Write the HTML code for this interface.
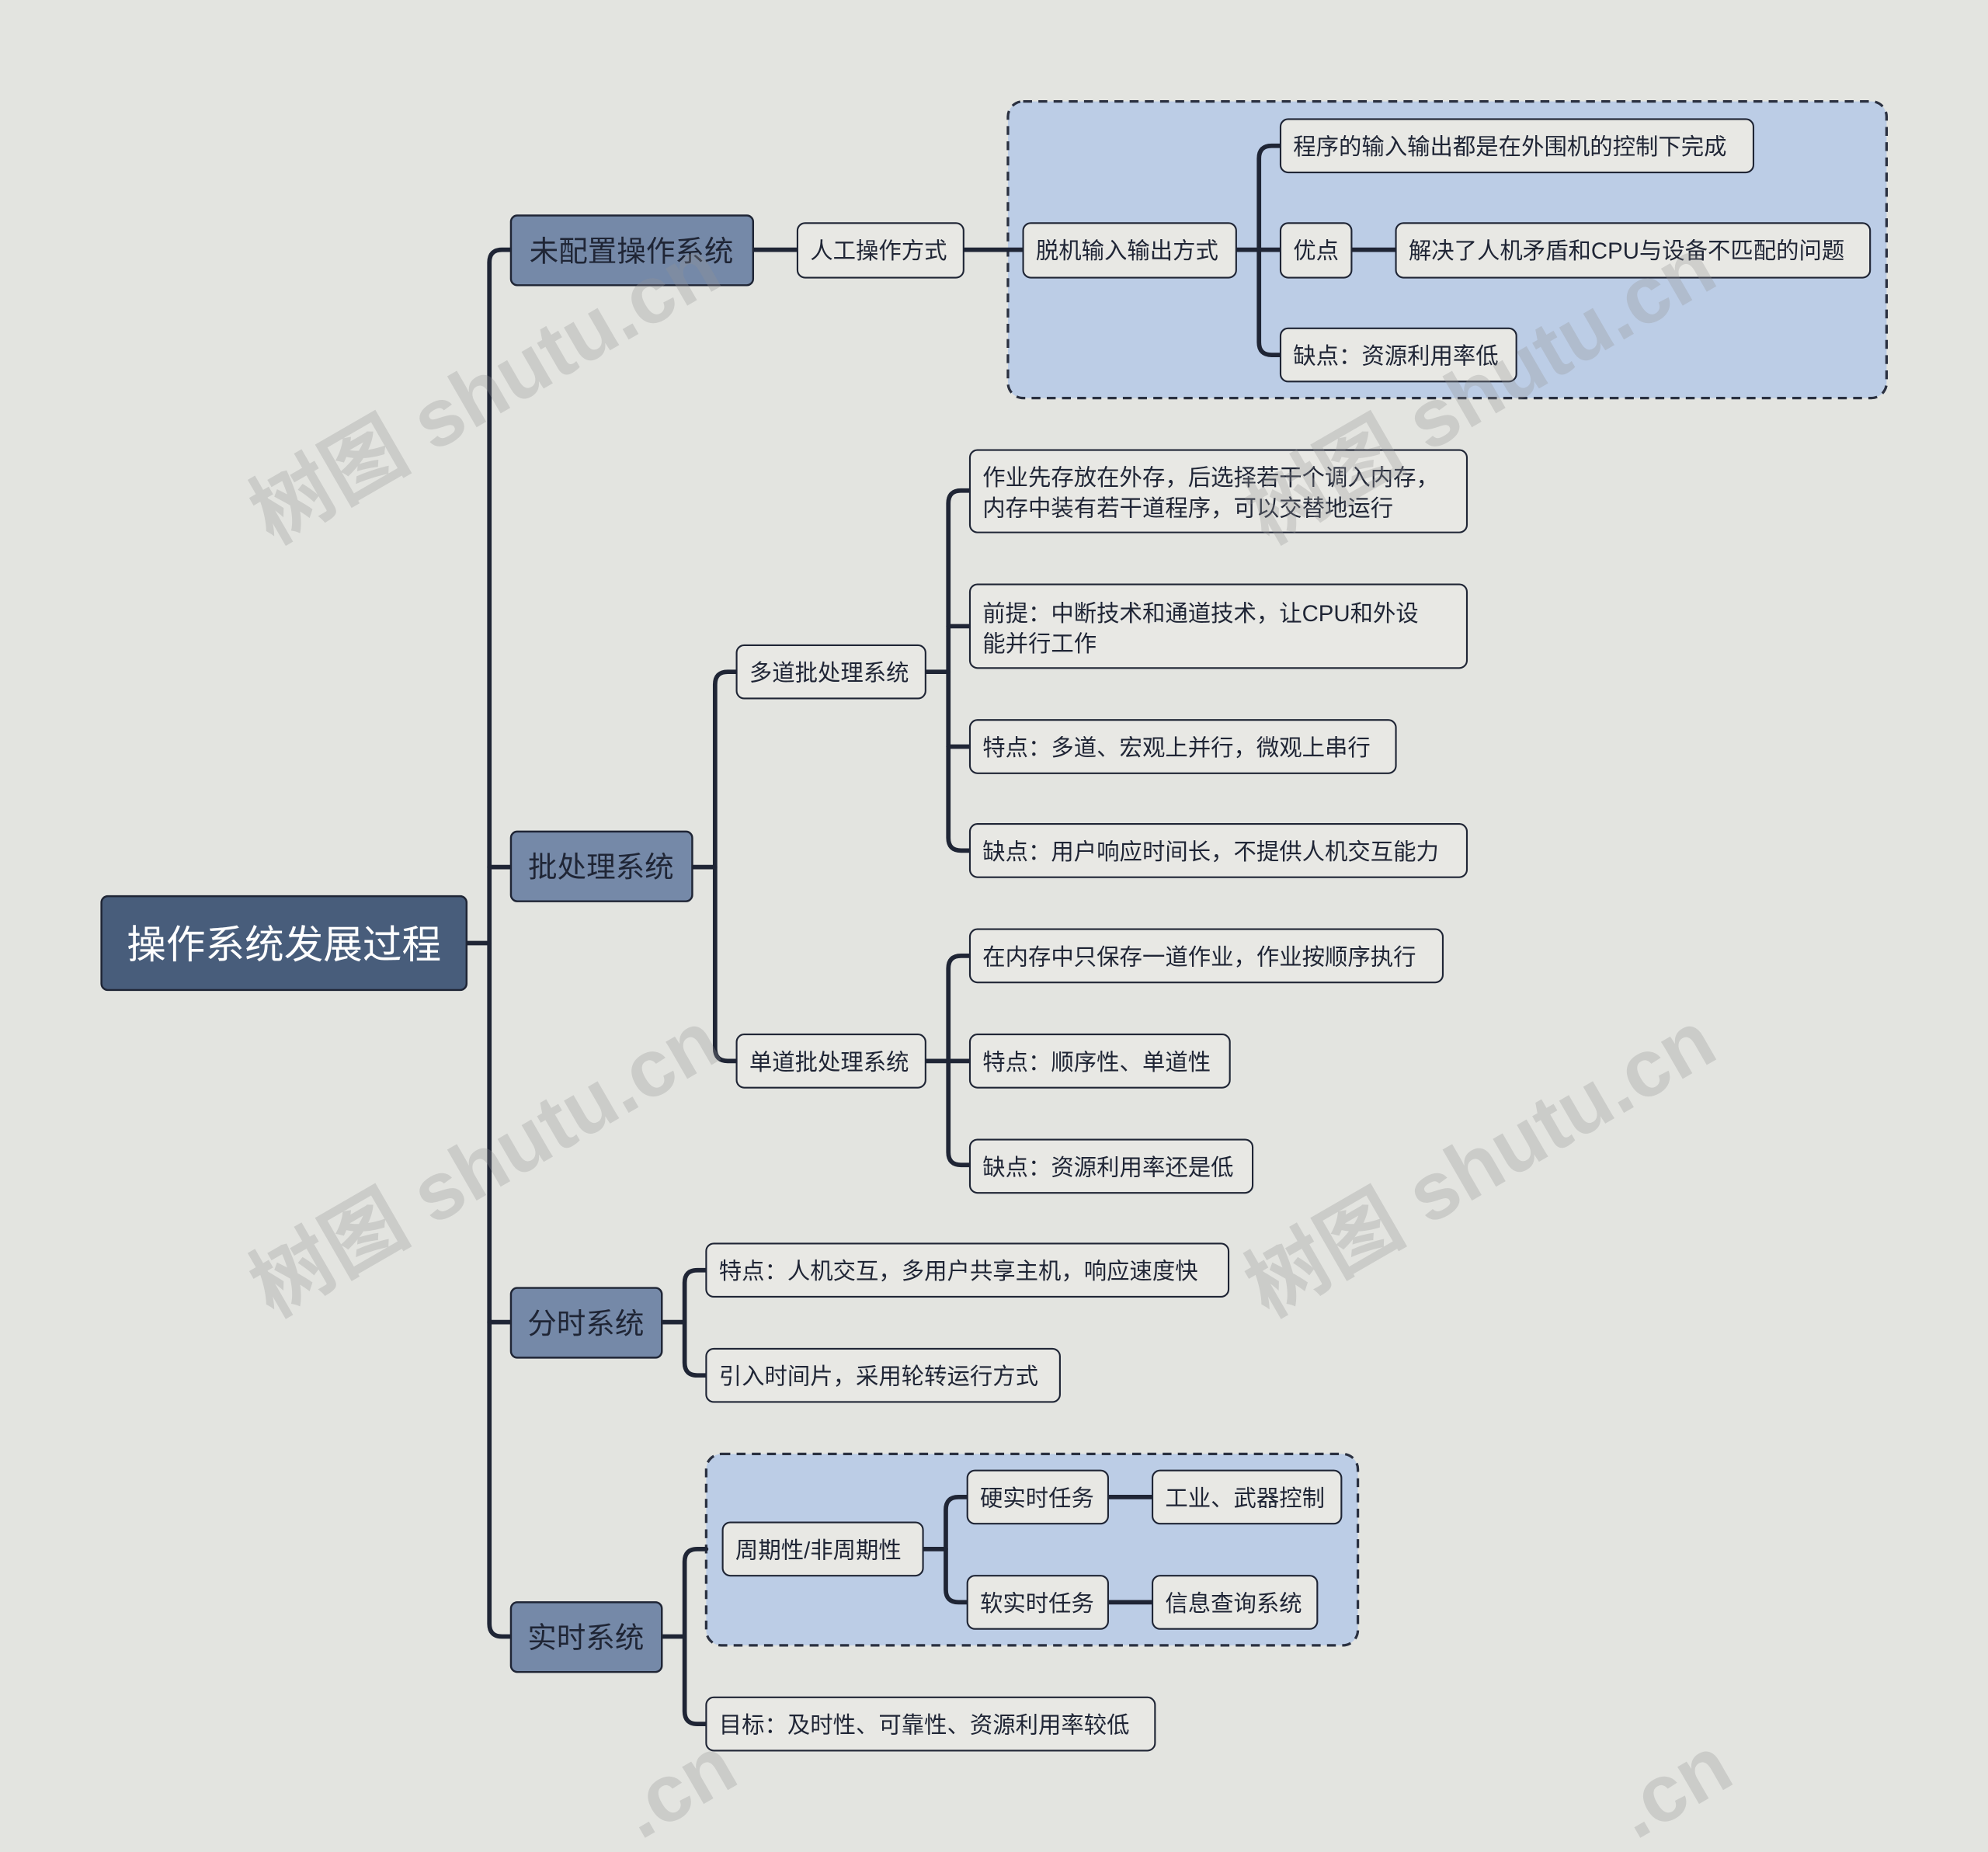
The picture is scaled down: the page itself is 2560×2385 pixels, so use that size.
<!DOCTYPE html>
<html><head><meta charset="utf-8"><style>
html,body{margin:0;padding:0;background:#e3e4e0;width:2560px;height:2385px;overflow:hidden;}
svg{display:block;overflow:hidden;}
text{font-family:"Liberation Sans","Noto Sans CJK SC",sans-serif;}
</style></head><body>
<svg width="2560" height="2385" viewBox="0 0 1568 1461" preserveAspectRatio="none" xmlns="http://www.w3.org/2000/svg">
<rect width="1568" height="1461" fill="#e3e4e0"/>
<rect x="795" y="80" width="693" height="234" rx="12" fill="#bccde6" stroke="#2a3040" stroke-width="2" stroke-dasharray="7,5"/>
<rect x="557" y="1147" width="514" height="151" rx="12" fill="#bccde6" stroke="#2a3040" stroke-width="2" stroke-dasharray="7,5"/>
<g fill="none" stroke="#1f2535" stroke-width="3.5" stroke-linecap="round">
<path d="M368,744 H386"/>
<path d="M403,197 H396 Q386,197 386,207 V1281 Q386,1291 396,1291 H403"/>
<path d="M386,684 H403"/>
<path d="M386,1043 H403"/>
<path d="M594,197 H629 M760,197 H807"/>
<path d="M975,197 H1010 M1066,197 H1101"/>
<path d="M1010,115 H1003 Q993,115 993,125 V270 Q993,280 1003,280 H1010"/>
<path d="M546,684 H564"/>
<path d="M581,530 H574 Q564,530 564,540 V827 Q564,837 574,837 H581"/>
<path d="M730,530 H748 M730,837 H748"/>
<path d="M765,387 H758 Q748,387 748,397 V661 Q748,671 758,671 H765"/>
<path d="M748,494 H765 M748,589 H765"/>
<path d="M765,754 H758 Q748,754 748,764 V909 Q748,919 758,919 H765"/>
<path d="M748,837 H765"/>
<path d="M522,1043 H540"/>
<path d="M557,1002 H550 Q540,1002 540,1012 V1075 Q540,1085 550,1085 H557"/>
<path d="M522,1291 H540"/>
<path d="M557,1222 H550 Q540,1222 540,1232 V1350 Q540,1360 550,1360 H557"/>
<path d="M728,1222 H746"/>
<path d="M763,1181 H756 Q746,1181 746,1191 V1254 Q746,1264 756,1264 H763"/>
<path d="M874,1181 H909 M874,1264 H909"/>
</g>
<rect x="80" y="707" width="288" height="74" rx="5" fill="#485d7b" stroke="#1f2535" stroke-width="1.5"/>
<text x="224" y="756" font-size="31" fill="#fff" text-anchor="middle">操作系统发展过程</text>
<g fill="#7589a8" stroke="#1f2535" stroke-width="1.5">
<rect x="403" y="170" width="191" height="55" rx="5"/>
<rect x="403" y="656" width="143" height="55" rx="5"/>
<rect x="403" y="1016" width="119" height="55" rx="5"/>
<rect x="403" y="1264" width="119" height="55" rx="5"/>
</g>
<g font-size="23" fill="#1f2535" text-anchor="middle">
<text x="498" y="206">未配置操作系统</text>
<text x="474" y="692">批处理系统</text>
<text x="462" y="1052">分时系统</text>
<text x="462" y="1300">实时系统</text>
</g>
<g fill="#e8e8e4" stroke="#1f2535" stroke-width="1.3">
<rect x="629" y="176" width="131" height="43" rx="6"/>
<rect x="807" y="176" width="168" height="43" rx="6"/>
<rect x="1010" y="94" width="373" height="42" rx="6"/>
<rect x="1010" y="176" width="56" height="43" rx="6"/>
<rect x="1101" y="176" width="374" height="43" rx="6"/>
<rect x="1010" y="259" width="186" height="42" rx="6"/>
<rect x="581" y="509" width="149" height="42" rx="6"/>
<rect x="581" y="816" width="149" height="42" rx="6"/>
<rect x="765" y="355" width="392" height="65" rx="6"/>
<rect x="765" y="461" width="392" height="66" rx="6"/>
<rect x="765" y="568" width="336" height="42" rx="6"/>
<rect x="765" y="650" width="392" height="42" rx="6"/>
<rect x="765" y="733" width="373" height="42" rx="6"/>
<rect x="765" y="816" width="205" height="42" rx="6"/>
<rect x="765" y="899" width="223" height="42" rx="6"/>
<rect x="557" y="981" width="412" height="42" rx="6"/>
<rect x="557" y="1064" width="279" height="42" rx="6"/>
<rect x="570" y="1201" width="158" height="42" rx="6"/>
<rect x="763" y="1160" width="111" height="42" rx="6"/>
<rect x="909" y="1160" width="149" height="42" rx="6"/>
<rect x="763" y="1243" width="111" height="42" rx="6"/>
<rect x="909" y="1243" width="130" height="42" rx="6"/>
<rect x="557" y="1339" width="354" height="42" rx="6"/>
</g>
<g font-size="18" fill="#1f2535">
<text x="639" y="204">人工操作方式</text>
<text x="817" y="204">脱机输入输出方式</text>
<text x="1020" y="122">程序的输入输出都是在外围机的控制下完成</text>
<text x="1020" y="204">优点</text>
<text x="1111" y="204">解决了人机矛盾和CPU与设备不匹配的问题</text>
<text x="1020" y="287">缺点：资源利用率低</text>
<text x="591" y="537">多道批处理系统</text>
<text x="591" y="844">单道批处理系统</text>
<text x="775" y="383">作业先存放在外存，后选择若干个调入内存，</text>
<text x="775" y="407">内存中装有若干道程序，可以交替地运行</text>
<text x="775" y="490">前提：中断技术和通道技术，让CPU和外设</text>
<text x="775" y="514">能并行工作</text>
<text x="775" y="596">特点：多道、宏观上并行，微观上串行</text>
<text x="775" y="678">缺点：用户响应时间长，不提供人机交互能力</text>
<text x="775" y="761">在内存中只保存一道作业，作业按顺序执行</text>
<text x="775" y="844">特点：顺序性、单道性</text>
<text x="775" y="927">缺点：资源利用率还是低</text>
<text x="567" y="1009">特点：人机交互，多用户共享主机，响应速度快</text>
<text x="567" y="1092">引入时间片，采用轮转运行方式</text>
<text x="580" y="1229">周期性/非周期性</text>
<text x="773" y="1188">硬实时任务</text>
<text x="919" y="1188">工业、武器控制</text>
<text x="773" y="1271">软实时任务</text>
<text x="919" y="1271">信息查询系统</text>
<text x="567" y="1367">目标：及时性、可靠性、资源利用率较低</text>
</g>
<g fill="rgb(150,150,150)" fill-opacity="0.3" font-size="64" font-weight="bold">
<text x="215" y="430" transform="rotate(-30 215 430)">树图 shutu.cn</text>
<text x="1000" y="430" transform="rotate(-30 1000 430)">树图 shutu.cn</text>
<text x="215" y="1040" transform="rotate(-30 215 1040)">树图 shutu.cn</text>
<text x="1000" y="1040" transform="rotate(-30 1000 1040)">树图 shutu.cn</text>
<text x="505" y="1452" transform="rotate(-30 505 1452)">.cn</text>
<text x="1290" y="1452" transform="rotate(-30 1290 1452)">.cn</text>
</g>
</svg>
</body></html>
